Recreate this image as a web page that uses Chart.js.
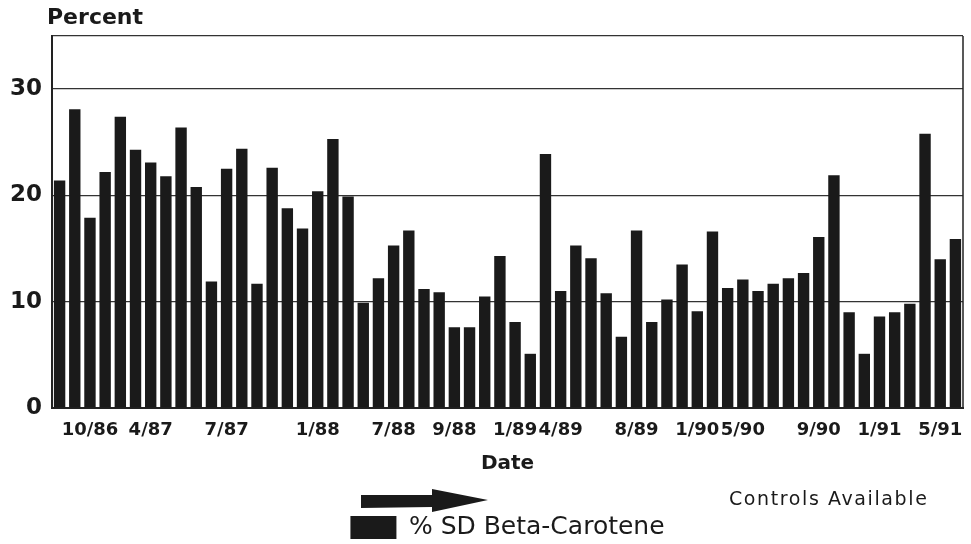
<!DOCTYPE html>
<html>
<head>
<meta charset="utf-8">
<script src="https://cdn.jsdelivr.net/npm/chart.js@4/dist/chart.umd.min.js"></script>
<style>
  html, body { margin: 0; padding: 0; background: #ffffff; }
  #wrap { width: 971px; height: 544px; position: relative; }
</style>
</head>
<body>
<div id="wrap"><canvas id="c" width="971" height="544"></canvas></div>
<script>
// ---- data ----
const seriesName = '% SD Beta-Carotene';
const sdValues = [
  21.4, 28.1, 17.9, 22.2, 27.4, 24.3, 23.1, 21.8, 26.4, 20.8,
  11.9, 22.5, 24.4, 11.7, 22.6, 18.8, 16.9, 20.4, 25.3, 19.9,
  9.9, 12.2, 15.3, 16.7, 11.2, 10.9, 7.6, 7.6, 10.5, 14.3,
  8.1, 5.1, 23.9, 11.0, 15.3, 14.1, 10.8, 6.7, 16.7, 8.1,
  10.2, 13.5, 9.1, 16.6, 11.3, 12.1, 11.0, 11.7, 12.2, 12.7,
  16.1, 21.9, 9.0, 5.1, 8.6, 9.0, 9.8, 25.8, 14.0, 15.9
];
const dateLabels = ['10/86', '4/87', '7/87', '1/88', '7/88', '9/88', '1/89', '4/89',
                    '8/89', '1/90', '5/90', '9/90', '1/91', '5/91'];
// bar number (1-based) under which each date label sits
const dateBars = [3, 7, 12, 18, 23, 27, 31, 34, 39, 43, 46, 51, 55, 59];
const yTicks = [0, 10, 20, 30];
const yTitle = 'Percent';
const xTitle = 'Date';
const noteText = 'Controls Available';

// category labels: one per bar, only some carry a date
const categories = sdValues.map(() => '');
dateLabels.forEach((d, i) => { categories[dateBars[i] - 1] = d; });

const FONT = '"DejaVu Sans", "Liberation Sans", Arial, sans-serif';
const INK = '#1a1a1a';

const decor = {
  id: 'decor',
  afterDraw(chart) {
    const { ctx, chartArea: a } = chart;
    ctx.save();
    // right frame edge
    ctx.strokeStyle = '#222';
    ctx.lineWidth = 1.5;
    ctx.beginPath();
    ctx.moveTo(a.right, a.top);
    ctx.lineTo(a.right, a.bottom);
    ctx.stroke();
    // y title above axis
    ctx.fillStyle = INK;
    ctx.font = 'bold 22px ' + FONT;
    ctx.textAlign = 'left';
    ctx.textBaseline = 'middle';
    ctx.fillText(yTitle, 47, 18);
    // arrow
    ctx.beginPath();
    ctx.moveTo(361, 495);
    ctx.lineTo(432, 495);
    ctx.lineTo(432, 489);
    ctx.lineTo(488, 500);
    ctx.lineTo(432, 512);
    ctx.lineTo(432, 507);
    ctx.lineTo(361, 508);
    ctx.closePath();
    ctx.fill();
    // note text
    ctx.font = '19px ' + FONT;
    if ('letterSpacing' in ctx) ctx.letterSpacing = '1.6px';
    ctx.fillText(noteText, 729, 500);
    ctx.restore();
  }
};

new Chart(document.getElementById('c'), {
  type: 'bar',
  data: {
    labels: categories,
    datasets: [{
      label: seriesName,
      data: sdValues,
      backgroundColor: INK,
      borderWidth: 0,
      barPercentage: 0.75,
      categoryPercentage: 1.0
    }]
  },
  options: {
    responsive: false,
    animation: false,
    devicePixelRatio: 1,
    layout: { padding: { top: 36, left: 0, right: 8, bottom: -6 } },
    scales: {
      x: {
        grid: { display: false, drawTicks: false },
        border: { display: true, color: '#222', width: 2 },
        ticks: {
          autoSkip: false, maxRotation: 0, minRotation: 0,
          color: INK, padding: 13,
          font: { family: FONT, size: 18, weight: 'bold', lineHeight: 1 }
        },
        title: {
          display: true, text: xTitle, color: INK,
          font: { family: FONT, size: 20, weight: 'bold' },
          padding: { top: 0, bottom: 35 }
        }
      },
      y: {
        min: 0, max: 35,
        afterBuildTicks(scale) {
          scale.ticks = yTicks.concat([35]).map(v => ({ value: v }));
        },
        ticks: {
          color: INK, padding: 10,
          font: { family: FONT, size: 23, weight: 'bold' },
          callback: v => (yTicks.includes(v) ? String(v) : '')
        },
        grid: { color: '#333', lineWidth: 1.3, drawTicks: false },
        border: { display: true, color: '#222', width: 2 }
      }
    },
    plugins: {
      legend: {
        position: 'bottom',
        fullSize: false,
        labels: {
          boxWidth: 46, boxHeight: 23, padding: 4,
          color: INK,
          font: { family: FONT, size: 25, lineHeight: 1 }
        }
      },
      tooltip: { enabled: false }
    }
  },
  plugins: [decor]
});
</script>
</body>
</html>
